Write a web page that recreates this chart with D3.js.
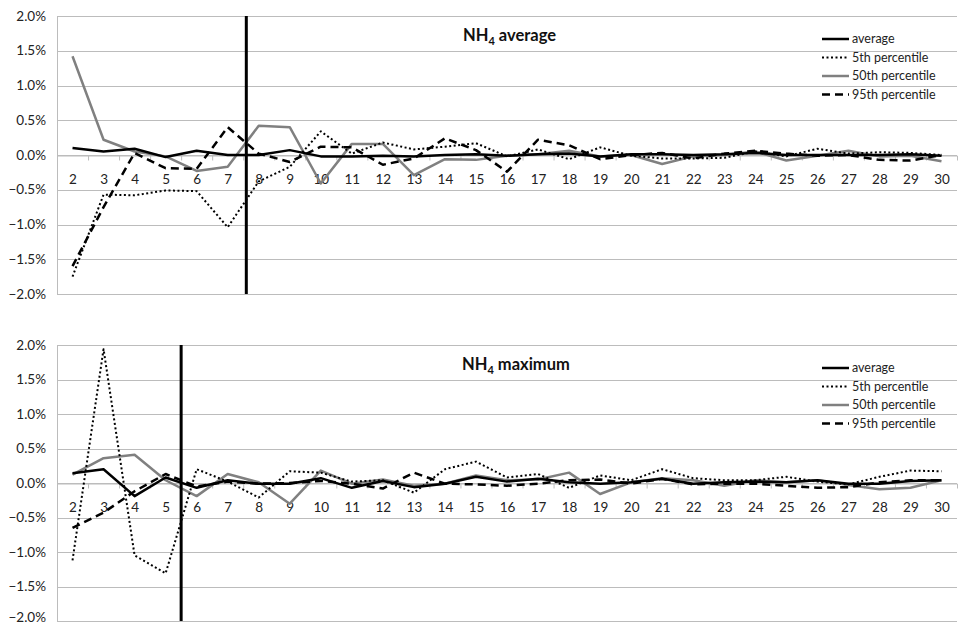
<!DOCTYPE html>
<html>
<head>
<meta charset="utf-8">
<script src="https://cdn.jsdelivr.net/npm/d3@7"></script>
<style>
  body { margin: 0; background: #fff; }
  svg { display: block; font-family: Lato, "Noto Sans", sans-serif; }
</style>
</head>
<body>
<div id="chart"></div>
<script>
// categories (x) and y ticks
const categories = [2,3,4,5,6,7,8,9,10,11,12,13,14,15,16,17,18,19,20,21,22,23,24,25,26,27,28,29,30]
const yTicks = [2.0, 1.5, 1.0, 0.5, 0.0, -0.5, -1.0, -1.5, -2.0]
const seriesNames = ['average', '5th percentile', '50th percentile', '95th percentile']

// NH4 average panel (values in %)
const avgTop = [0.10,0.05,0.09,-0.03,0.06,0.00,0.00,0.07,-0.02,-0.02,-0.01,-0.02,0.00,0.01,-0.01,0.01,0.02,-0.02,0.01,0.01,0.00,0.01,0.03,0.00,0.00,0.00,0.00,0.01,-0.01]
const p5Top = [-1.75,-0.57,-0.58,-0.51,-0.52,-1.04,-0.38,-0.17,0.34,0.02,0.18,0.08,0.12,0.17,-0.02,0.08,-0.06,0.11,-0.01,-0.05,-0.05,-0.04,0.05,-0.02,0.09,0.02,0.04,0.03,0.00]
const p50Top = [1.42,0.22,0.05,-0.02,-0.23,-0.17,0.42,0.40,-0.41,0.16,0.16,-0.29,-0.06,-0.07,-0.01,0.01,0.06,-0.02,0.00,-0.13,-0.02,0.00,0.05,-0.08,-0.01,0.06,-0.02,-0.01,-0.09]
const p95Top = [-1.60,-0.75,0.03,-0.19,-0.20,0.40,0.02,-0.10,0.12,0.11,-0.14,-0.05,0.24,0.07,-0.24,0.22,0.14,-0.06,0.00,0.03,-0.05,0.02,0.06,0.02,-0.01,0.00,-0.07,-0.08,0.00]
const cutTop = 7.6

// NH4 maximum panel (values in %)
const avgBot = [0.14,0.20,-0.19,0.08,-0.07,0.04,-0.01,-0.01,0.07,-0.07,0.03,-0.06,-0.01,0.09,0.02,0.06,0.01,-0.01,0.01,0.06,-0.01,0.01,0.02,0.01,0.04,-0.01,-0.01,0.03,0.04]
const p5Bot = [-1.12,1.94,-1.05,-1.31,0.20,0.02,-0.21,0.17,0.15,0.02,0.04,-0.14,0.20,0.31,0.08,0.13,-0.07,0.11,0.04,0.20,0.07,0.04,0.04,0.09,0.02,-0.02,0.09,0.18,0.17]
const p50Bot = [0.12,0.36,0.41,0.04,-0.19,0.13,0.01,-0.30,0.18,-0.01,0.05,-0.04,-0.01,0.11,0.04,0.05,0.15,-0.16,0.01,0.07,0.04,-0.04,0.04,0.01,0.04,-0.03,-0.09,-0.07,0.04]
const p95Bot = [-0.65,-0.43,-0.12,0.13,-0.05,0.02,-0.01,0.00,0.03,-0.01,-0.08,0.15,-0.01,-0.02,-0.04,-0.01,0.04,0.05,-0.01,0.06,-0.02,-0.01,-0.01,-0.04,-0.07,-0.06,0.01,0.04,0.04]
const cutBot = 5.5

const W = 958, H = 627
const styles = [
    {stroke: '#000', width: 2.5, dash: null},
    {stroke: '#000', width: 2, dash: '2,2.5'},
    {stroke: '#808080', width: 2.5, dash: null},
    {stroke: '#000', width: 2.5, dash: '8,5'}
]

const svg = d3.select('#chart')
    .append('svg')
    .attr('width', W)
    .attr('height', H)

const x = d3.scaleLinear()
    .domain([1.5, 30.5])
    .range([57, 957])

function drawPanel(cfg) {
    const y = d3.scaleLinear()
        .domain([-2, 2])
        .range([cfg.bottom, cfg.top])

    const g = svg.append('g')

    // gridlines
    g.selectAll('.grid')
        .data(yTicks).enter()
        .append('line')
        .attr('x1', x.range()[0])
        .attr('x2', x.range()[1])
        .attr('y1', d => Math.round(y(d)) + 0.5)
        .attr('y2', d => Math.round(y(d)) + 0.5)
        .attr('stroke', '#bcbcbc')
        .attr('stroke-width', 1)

    // left axis line
    g.append('line')
        .attr('x1', x.range()[0] + 0.5).attr('x2', x.range()[0] + 0.5)
        .attr('y1', y(2)).attr('y2', y(-2))
        .attr('stroke', '#bcbcbc')

    // y labels (kept inside the page at the bottom edge)
    g.selectAll('.ylab')
        .data(yTicks).enter()
        .append('text')
        .attr('x', 46)
        .attr('y', d => Math.min(y(d), H - 10))
        .attr('dy', '0.35em')
        .attr('text-anchor', 'end')
        .attr('font-size', '13.5px')
        .attr('fill', '#222')
        .text(d => d3.format('.1f')(d) + '%')

    // x axis at zero
    const xAxis = d3.axisBottom(x)
        .tickValues(categories)
        .tickSize(0)
    const xg = g.append('g')
        .attr('transform', `translate(0, ${Math.round(y(0)) + 0.5})`)
        .call(xAxis)
    xg.select('.domain').remove()
    xg.selectAll('text')
        .attr('y', 24)
        .attr('dy', '0.35em')
        .attr('font-size', '13.5px')
        .attr('font-family', 'Lato, "Noto Sans", sans-serif')
        .attr('fill', '#222')

    // minor ticks at category boundaries
    const minor = d3.axisBottom(x)
        .tickValues(categories.map(c => c - 0.5))
        .tickSize(5)
        .tickFormat('')
    const mg = g.append('g')
        .attr('transform', `translate(0, ${Math.round(y(0)) + 0.5})`)
        .call(minor)
    mg.select('.domain').attr('stroke', '#bcbcbc')
    mg.selectAll('line').attr('stroke', '#bcbcbc')

    // series lines
    const line = d3.line()
        .x((d, i) => x(categories[i]))
        .y(d => y(d))

    const order = [2, 1, 3, 0]
    order.forEach(k => {
        g.append('path')
            .datum(cfg.series[k])
            .attr('d', line)
            .attr('fill', 'none')
            .attr('stroke', styles[k].stroke)
            .attr('stroke-width', styles[k].width)
            .attr('stroke-dasharray', styles[k].dash)
            .attr('stroke-linejoin', 'round')
    })

    // vertical marker
    g.append('line')
        .attr('x1', x(cfg.cut)).attr('x2', x(cfg.cut))
        .attr('y1', y(2)).attr('y2', y(-2))
        .attr('stroke', '#000')
        .attr('stroke-width', 3)

    // title
    const t = g.append('text')
        .attr('x', cfg.titleX)
        .attr('y', cfg.top + 25)
        .attr('font-size', '16.5px')
        .attr('font-weight', 'bold')
        .attr('fill', '#111')
    t.append('tspan').text('NH')
    t.append('tspan').attr('font-size', '11px').attr('dy', 4).text('4')
    t.append('tspan').attr('dy', -4).text(' ' + cfg.title)

    // legend
    const lg = g.append('g')
        .attr('transform', `translate(822, ${cfg.top + 23})`)
    seriesNames.forEach((name, k) => {
        const yy = k * 18.5
        lg.append('line')
            .attr('x1', 0).attr('x2', 27)
            .attr('y1', yy).attr('y2', yy)
            .attr('stroke', styles[k].stroke)
            .attr('stroke-width', styles[k].width)
            .attr('stroke-dasharray', styles[k].dash)
        lg.append('text')
            .attr('x', 30)
            .attr('y', yy)
            .attr('dy', '0.35em')
            .attr('font-size', '12.5px')
            .attr('fill', '#222')
            .text(name)
    })
}

drawPanel({
    top: 16, bottom: 294,
    series: [avgTop, p5Top, p50Top, p95Top],
    cut: cutTop,
    title: 'average',
    titleX: 463
})

drawPanel({
    top: 345, bottom: 621,
    series: [avgBot, p5Bot, p50Bot, p95Bot],
    cut: cutBot,
    title: 'maximum',
    titleX: 462
})
</script>
</body>
</html>
